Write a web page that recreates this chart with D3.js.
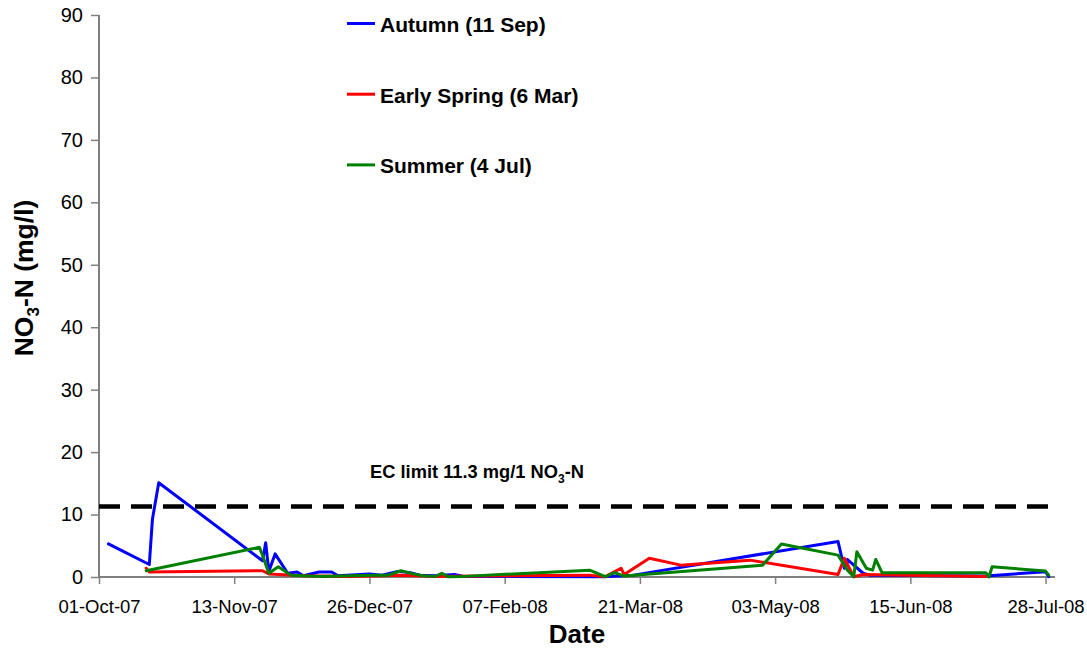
<!DOCTYPE html>
<html>
<head>
<meta charset="utf-8">
<script src="https://cdn.jsdelivr.net/npm/d3@7"></script>
<style>
  body { margin: 0; background: #fff; }
  svg { display: block; }
  text { font-family: "Liberation Sans", Arial, sans-serif; fill: #000; }
</style>
</head>
<body>
<svg id="chart" width="1087" height="650"></svg>
<script>
// NO3-N concentrations (mg/l) by sampling date, one series per application timing
const autumnDates = ["2007-10-04","2007-10-17","2007-10-18","2007-10-20","2007-11-22","2007-11-23","2007-11-24","2007-11-26","2007-11-30","2007-12-03","2007-12-05","2007-12-10","2007-12-14","2007-12-16","2007-12-26","2007-12-30","2008-01-04","2008-01-08","2008-01-11","2008-01-16","2008-01-22","2008-01-25","2008-03-09","2008-03-19","2008-05-23","2008-05-25","2008-05-26","2008-05-31","2008-06-02","2008-07-09","2008-07-28","2008-07-29"];
const autumnValues = [5.3,2.0,9.3,15.1,2.6,5.5,0.9,3.7,0.6,0.8,0.2,0.8,0.8,0.2,0.5,0.3,0.9,0.7,0.3,0.2,0.4,0.1,0.05,0.3,5.7,1.4,2.8,0.6,0.3,0.15,0.85,0.05];

const springDates = ["2007-10-16","2007-10-17","2007-11-22","2007-11-24","2007-12-05","2007-12-20","2008-01-05","2008-01-15","2008-03-05","2008-03-10","2008-03-15","2008-03-16","2008-03-24","2008-04-03","2008-04-25","2008-05-23","2008-05-25","2008-05-28","2008-05-31","2008-07-09"];
const springValues = [1.4,0.8,1.0,0.5,0.2,0.1,0.3,0.1,0.3,0.05,1.4,0.4,3.0,1.9,2.7,0.4,3.0,0.05,0.4,0.1];

const summerDates = ["2007-10-16","2007-11-21","2007-11-22","2007-11-24","2007-11-27","2007-12-01","2007-12-10","2007-12-20","2007-12-27","2008-01-01","2008-01-05","2008-01-09","2008-01-12","2008-01-16","2008-01-18","2008-01-20","2008-01-25","2008-03-05","2008-03-10","2008-03-13","2008-03-16","2008-04-29","2008-05-05","2008-05-23","2008-05-26","2008-05-28","2008-05-29","2008-06-01","2008-06-03","2008-06-04","2008-06-06","2008-07-09","2008-07-10","2008-07-11","2008-07-28","2008-07-29"];
const summerValues = [1.0,4.75,3.5,0.6,1.65,0.3,0.1,0.2,0.3,0.3,1.0,0.5,0.2,0.1,0.6,0.05,0.1,1.1,0.05,0.7,0.15,1.9,5.3,3.5,1.1,0.05,4.05,1.4,1.1,2.8,0.7,0.7,0.0,1.65,0.95,0.3];

const seriesNames = ["Autumn (11 Sep)", "Early Spring (6 Mar)", "Summer (4 Jul)"];
const seriesColors = ["#0000ff", "#ff0000", "#008000"];

// EC drinking-water limit line
const limitValue = 11.3;
const limitDates = ["2007-10-01", "2008-07-29"];

const xTickDates = ["2007-10-01","2007-11-13","2007-12-26","2008-02-07","2008-03-21","2008-05-03","2008-06-15","2008-07-28"];
const yTicks = [0,10,20,30,40,50,60,70,80,90];
const xDomain = ["2007-10-01", "2008-07-31"];

const parse = d3.timeParse("%Y-%m-%d");
const fmt = d3.timeFormat("%d-%b-%y");

const svg = d3.select("#chart");
const plotLeft = 99, plotRight = 1055, plotTop = 15, plotBottom = 577;

const x = d3.scaleTime().domain(xDomain.map(parse)).range([plotLeft, plotRight]);
const y = d3.scaleLinear().domain([0, 90]).range([plotBottom, plotTop]);

svg.append("rect").attr("width", 1087).attr("height", 650).attr("fill", "#fff");

// Y axis
const yAxis = svg.append("g")
  .attr("transform", `translate(${plotLeft},0)`)
  .call(d3.axisLeft(y).tickValues(yTicks).tickSize(8).tickPadding(8).tickFormat(d3.format("d")));
yAxis.select(".domain").attr("stroke", "#808080").attr("stroke-width", 2).attr("d", `M0,${plotTop}V${plotBottom}`);
yAxis.selectAll(".tick line").attr("stroke", "#808080").attr("stroke-width", 1.5);
yAxis.selectAll(".tick text").attr("font-size", 20).attr("fill", "#000").style("font-family", "'Liberation Sans', Arial, sans-serif");

// X axis
const xAxis = svg.append("g")
  .attr("transform", `translate(0,${plotBottom})`)
  .call(d3.axisBottom(x).tickValues(xTickDates.map(parse)).tickSize(7).tickFormat(fmt));
xAxis.select(".domain").attr("stroke", "#808080").attr("stroke-width", 2).attr("d", `M${plotLeft},0H${plotRight}`);
xAxis.selectAll(".tick line").attr("stroke", "#808080").attr("stroke-width", 1.5);
xAxis.selectAll(".tick text").attr("font-size", 18.5).attr("fill", "#000").attr("y", 23)
  .style("font-family", "'Liberation Sans', Arial, sans-serif");

// Limit line
svg.append("line")
  .attr("x1", x(parse(limitDates[0]))).attr("x2", x(parse(limitDates[1])))
  .attr("y1", y(limitValue)).attr("y2", y(limitValue))
  .attr("stroke", "#000").attr("stroke-width", 4.5).attr("stroke-dasharray", "21,11");

const ecLabel = svg.append("text").attr("x", 370).attr("y", 478)
  .attr("font-size", 18.3).attr("font-weight", "bold");
ecLabel.append("tspan").text(`EC limit ${limitValue} mg/1 NO`);
ecLabel.append("tspan").attr("font-size", 12).attr("dy", 5).text("3");
ecLabel.append("tspan").attr("dy", -5).text("-N");

// Series lines
const line = d3.line().x(d => x(d.date)).y(d => y(d.v));
const series = [
  autumnDates.map((d, i) => ({ date: parse(d), v: autumnValues[i] })),
  springDates.map((d, i) => ({ date: parse(d), v: springValues[i] })),
  summerDates.map((d, i) => ({ date: parse(d), v: summerValues[i] }))
];
series.forEach((s, i) => {
  svg.append("path").datum(s).attr("d", line)
    .attr("fill", "none").attr("stroke", seriesColors[i])
    .attr("stroke-width", 3).attr("stroke-linejoin", "round").attr("stroke-linecap", "round");
});

// Legend
const legend = svg.append("g");
seriesNames.forEach((name, i) => {
  const ly = 23.5 + i * 70.7;
  legend.append("line").attr("x1", 347).attr("x2", 375).attr("y1", ly).attr("y2", ly)
    .attr("stroke", seriesColors[i]).attr("stroke-width", 3);
  legend.append("text").attr("x", 380).attr("y", ly + 8.5)
    .attr("font-size", 21).attr("font-weight", "bold").text(name);
});

// Axis titles
svg.append("text").attr("x", 577).attr("y", 643).attr("text-anchor", "middle")
  .attr("font-size", 26).attr("font-weight", "bold").text("Date");

const yTitle = svg.append("text").attr("transform", "translate(33,278) rotate(-90)")
  .attr("text-anchor", "middle").attr("font-size", 26.5).attr("font-weight", "bold");
yTitle.append("tspan").text("NO");
yTitle.append("tspan").attr("font-size", 17).attr("dy", 6).text("3");
yTitle.append("tspan").attr("dy", -6).text("-N (mg/l)");
</script>
</body>
</html>
